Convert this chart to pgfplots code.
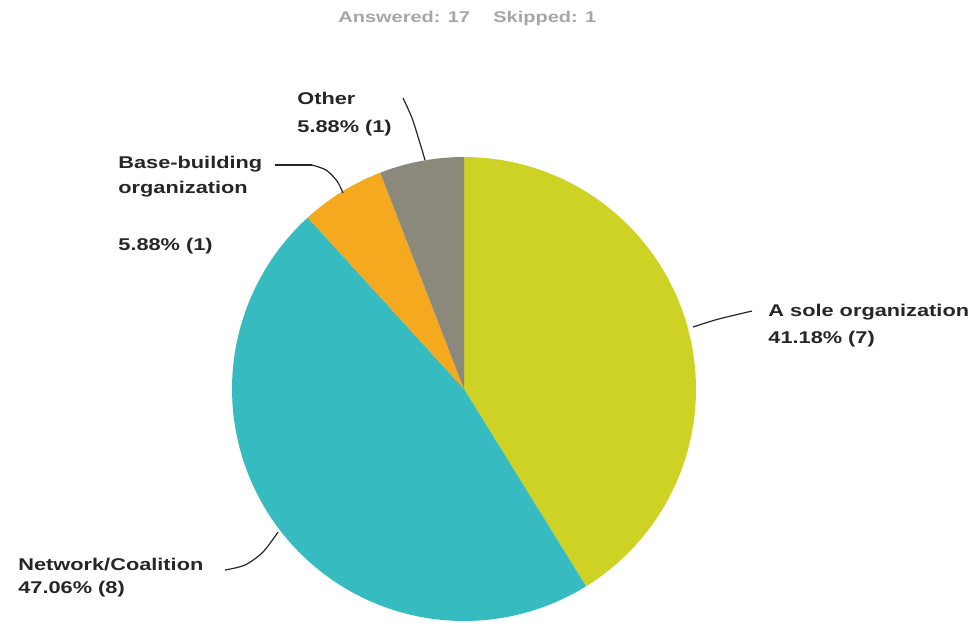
\documentclass[border=0pt]{standalone}
\usepackage{pgfplots}
\pgfplotsset{compat=1.18}
\usepackage{fontspec}
\setmainfont{Liberation Sans}
\newfontfamily\lblfont{Liberation Sans}[FakeStretch=1.28]
\definecolor{cYel}{HTML}{CDD225}
\definecolor{cTeal}{HTML}{36BCC0}
\definecolor{cOrg}{HTML}{F5A91E}
\definecolor{cGray}{HTML}{8A897B}
\definecolor{cTxt}{HTML}{262626}
\definecolor{cHead}{HTML}{A6A6A6}
% shares in percent (clockwise from top)
\def\pA{41.18}% A sole organization
\def\pB{47.06}% Network/Coalition
\def\pC{5.88}%  Base-building organization
\def\pD{5.88}%  Other
\tikzset{
  lbl/.style={anchor=base west, inner sep=0pt, text=cTxt, font=\lblfont\bfseries\fontsize{8.5pt}{10pt}\selectfont},
  hdr/.style={anchor=base west, inner sep=0pt, text=cHead, font=\lblfont\bfseries\fontsize{7.8pt}{10pt}\selectfont},
}
\begin{document}
\begin{tikzpicture}
\begin{axis}[
  width=488.5pt, height=311.5pt, scale only axis,
  xmin=0, xmax=977, ymin=0, ymax=623, y dir=reverse,
  hide axis, clip=false,
]
\path (rel axis cs:0,0) rectangle (rel axis cs:1,1);
% pie sectors, centre (464,389), radius 232
\addplot[fill=cYel, draw=none, domain=90:{90-\pA*3.6}, samples=80, variable=\t]
  ({464+232*cos(\t)}, {389-232*sin(\t)}) -- (axis cs:464,389) -- cycle;
\addplot[fill=cTeal, draw=none, domain={90-\pA*3.6}:{90-(\pA+\pB)*3.6}, samples=80, variable=\t]
  ({464+232*cos(\t)}, {389-232*sin(\t)}) -- (axis cs:464,389) -- cycle;
\addplot[fill=cOrg, draw=none, domain={90-(\pA+\pB)*3.6}:{90-(\pA+\pB+\pC)*3.6}, samples=20, variable=\t]
  ({464+232*cos(\t)}, {389-232*sin(\t)}) -- (axis cs:464,389) -- cycle;
\addplot[fill=cGray, draw=none, domain={90-(\pA+\pB+\pC)*3.6}:-270, samples=20, variable=\t]
  ({464+232*cos(\t)}, {389-232*sin(\t)}) -- (axis cs:464,389) -- cycle;
% leader lines
\addplot[cTxt, line width=0.6pt, smooth, no marks] coordinates {(403,98) (412,118) (419,140) (425,160)};
\addplot[cTxt, line width=0.6pt, no marks] coordinates {(275,165) (312,165)};
\addplot[cTxt, line width=0.6pt, smooth, no marks] coordinates {(312,165) (326,170) (337,181) (343,193)};
\addplot[cTxt, line width=0.6pt, smooth, no marks] coordinates {(693,327) (715,320) (735,315) (752,311)};
\addplot[cTxt, line width=0.6pt, smooth, no marks] coordinates {(225,570) (245,565) (263,552) (278,532)};
% header
\node[hdr] at (axis cs:338,22) {Answered: 17};
\node[hdr] at (axis cs:493,22) {Skipped: 1};
% labels
\node[lbl] at (axis cs:297,104) {Other};
\node[lbl] at (axis cs:297,132) {5.88\% (1)};
\node[lbl] at (axis cs:118,168) {Base-building};
\node[lbl] at (axis cs:118,193) {organization};
\node[lbl] at (axis cs:118,250) {5.88\% (1)};
\node[lbl] at (axis cs:768,316) {A sole organization};
\node[lbl] at (axis cs:768,343) {41.18\% (7)};
\node[lbl] at (axis cs:18,570) {Network/Coalition};
\node[lbl] at (axis cs:18,593) {47.06\% (8)};
\end{axis}
\end{tikzpicture}
\end{document}
